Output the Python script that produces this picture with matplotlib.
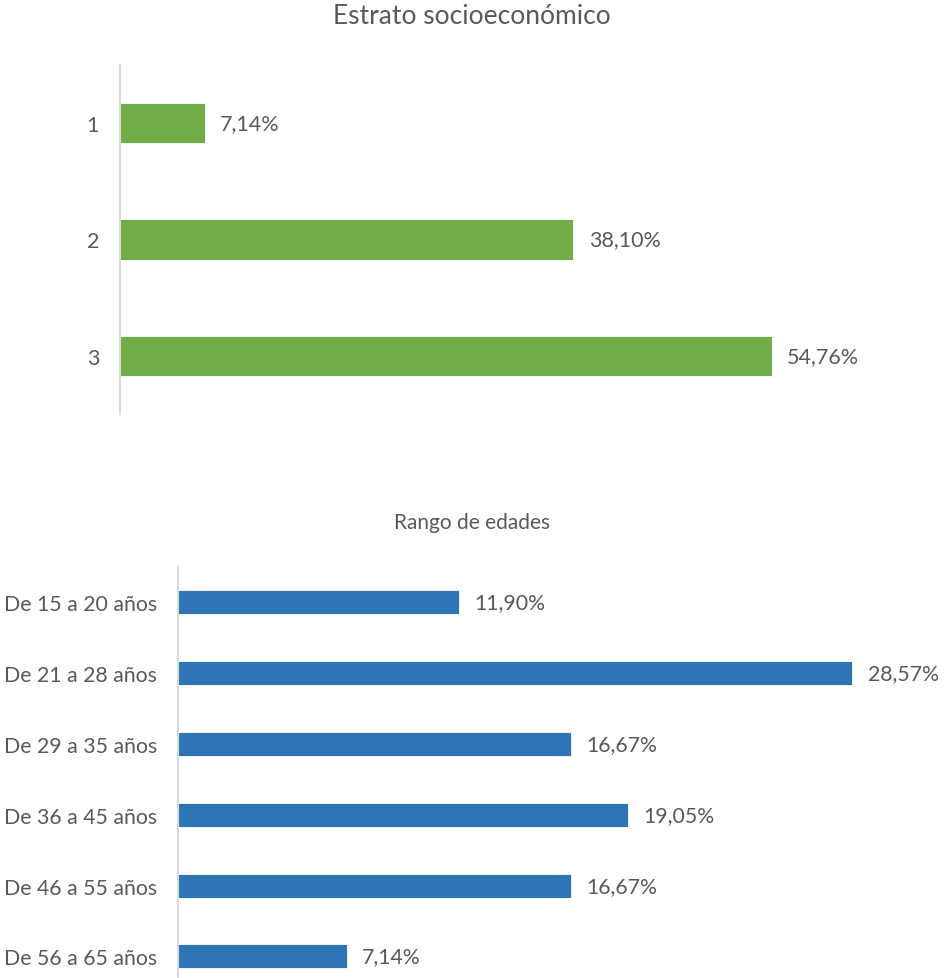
import matplotlib.pyplot as plt

plt.rcParams['font.family'] = ['Lato', 'DejaVu Sans']

# Datos
estratos = ['1', '2', '3']
estratos_pct = [7.14, 38.10, 54.76]

edades = ['De 15 a 20 años', 'De 21 a 28 años', 'De 29 a 35 años',
          'De 36 a 45 años', 'De 46 a 55 años', 'De 56 a 65 años']
edades_pct = [11.90, 28.57, 16.67, 19.05, 16.67, 7.14]

gris = '#595959'
linea = '#D9D9D9'

fig = plt.figure(figsize=(9.47, 9.79), dpi=100)


def fmt(v):
    return f'{v:.2f}%'.replace('.', ',')


def barras(ax, cats, vals, color, alto, xmax, ymax, fs):
    pos = list(range(len(cats)))
    ax.barh(pos, vals, height=alto, color=color, edgecolor='white', linewidth=0.6)
    ax.set_yticks(pos)
    ax.set_yticklabels(cats, fontsize=fs, color=gris)
    ax.set_xlim(0, xmax)
    ax.set_ylim(ymax, -0.5)
    ax.set_xticks([])
    for s in ['top', 'right', 'bottom']:
        ax.spines[s].set_visible(False)
    ax.spines['left'].set_color(linea)
    ax.spines['left'].set_linewidth(1.5)
    ax.tick_params(axis='y', length=0, pad=15)
    for p, v in zip(pos, vals):
        ax.annotate(fmt(v), xy=(v, p), xytext=(11, 0), textcoords='offset points',
                    va='center', ha='left', fontsize=fs, color=gris)


# Estrato socioeconómico
ax1 = fig.add_axes([120 / 947, 1 - 415 / 979, 714 / 947, 349 / 979])
barras(ax1, estratos, estratos_pct, '#70AD47', 0.344, 60, 2.5, 15.5)
fig.text(472 / 947, 1 - 17 / 979, 'Estrato socioeconómico', ha='center', va='center',
         fontsize=19, color=gris)

# Rango de edades
ax2 = fig.add_axes([178 / 947, 0, 708 / 947, 411 / 979])
barras(ax2, edades, edades_pct, '#2E75B6', 0.34, 30, 5.305, 15.3)
fig.text(472 / 947, 1 - 523 / 979, 'Rango de edades', ha='center', va='center',
         fontsize=15, color=gris)

fig.savefig('out.png', dpi=100)
